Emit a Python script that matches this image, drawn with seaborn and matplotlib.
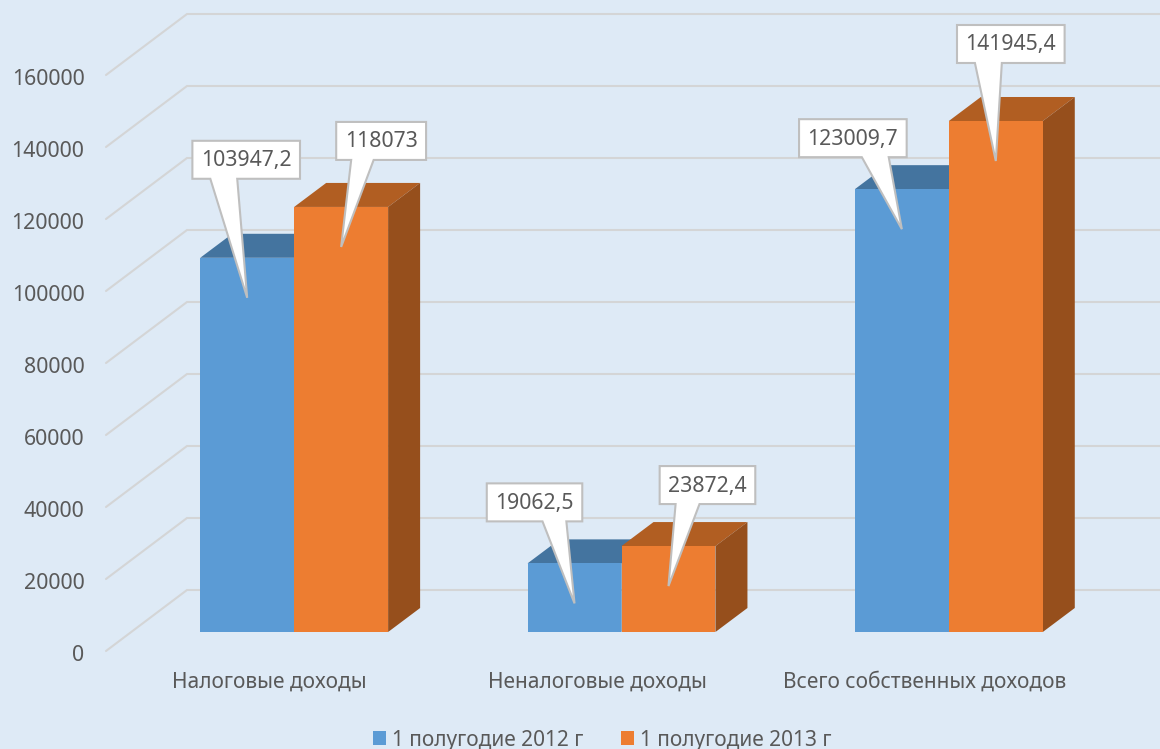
import pandas as pd
import seaborn as sns
import matplotlib.pyplot as plt
from matplotlib.patches import Polygon
from matplotlib.transforms import IdentityTransform, ScaledTranslation

#Data
categories = ["Налоговые доходы", "Неналоговые доходы", "Всего собственных доходов"]
series_names = ["1 полугодие 2012 г", "1 полугодие 2013 г"]
values_2012 = [103947.2, 19062.5, 123009.7]
values_2013 = [118073, 23872.4, 141945.4]
label_2012 = ["103947,2", "19062,5", "123009,7"]
label_2013 = ["118073", "23872,4", "141945,4"]
y_ticks = [0, 20000, 40000, 60000, 80000, 100000, 120000, 140000, 160000]

#Style
bg_color = "#DEEAF6"
grid_color = "#D4D5D6"
text_color = "#595959"
front_colors = ["#5B9BD5", "#ED7D31"]
top_colors = ["#44749F", "#B15E22"]
side_colors = ["#3E6A92", "#964F1C"]
wall_depth = (81, 61)   # px
bar_shift = (24.5, 19)  # px, bars stand inside the floor
bar_depth = (32, 24)    # px
# callout box centre relative to the tip, px
callout_offsets = [[(-1, 138), (-40, 101), (-49, 91)],
                   [(40, 106), (39, 101), (15, 117)]]

W, H = 1160, 749
sns.set_theme(style="white")
plt.rcParams["font.family"] = ["Noto Sans", "DejaVu Sans"]

fig = plt.figure(figsize=(W / 100, H / 100), dpi=100, facecolor=bg_color)
ax = fig.add_axes([106 / W, (H - 651) / H, 982 / W, 576 / H])
ax.patch.set_alpha(0)

df = pd.DataFrame({
    "category": categories * 2,
    "series": [series_names[0]] * 3 + [series_names[1]] * 3,
    "value": values_2012 + values_2013,
})
sns.barplot(data=df, x="category", y="value", hue="series", palette=front_colors,
            saturation=1, width=0.574, gap=0, linewidth=0, ax=ax, zorder=5)

ax.set_xlim(-0.5, 2.5)
ax.set_ylim(0, 160000)
ax.set_xlabel("")
ax.set_ylabel("")
ax.set_yticks(y_ticks)
ax.set_yticklabels([str(t) for t in y_ticks])
ax.tick_params(axis="y", length=0, pad=15.5, labelsize=15.4, labelcolor=text_color)
ax.tick_params(axis="x", length=0, pad=15, labelsize=15.05, labelcolor=text_color)
sns.despine(ax=ax, left=True, bottom=True)
for lab in ax.get_yticklabels():
    lab.set_transform(lab.get_transform() + ScaledTranslation(0, -2 / 100, fig.dpi_scale_trans))

#Wall grid: diagonal on the left, then flat along the back
for t in y_ticks:
    x0, y0 = ax.transData.transform((-0.5, t))
    x1, y1 = ax.transData.transform((2.5, t))
    ax.plot([x0, x0 + wall_depth[0], x1 + wall_depth[0]],
            [y0, y0 + wall_depth[1], y1 + wall_depth[1]],
            color=grid_color, lw=1.5, transform=IdentityTransform(),
            clip_on=False, zorder=1, solid_joinstyle="miter")

#Push the bars in and give them a top and a side
shift = ScaledTranslation(bar_shift[0] / 100, bar_shift[1] / 100, fig.dpi_scale_trans)
tips = []
for s, container in enumerate(ax.containers):
    tips.append([])
    for patch in container:
        patch.set_transform(ax.transData + shift)
        patch.set_clip_on(False)
        left, bottom = patch.get_x(), patch.get_y()
        right, top = left + patch.get_width(), bottom + patch.get_height()
        xl, yb = (ax.transData + shift).transform((left, bottom))
        xr, yt = (ax.transData + shift).transform((right, top))
        dx, dy = bar_depth
        ax.add_patch(Polygon([(xl, yt), (xr, yt), (xr + dx, yt + dy), (xl + dx, yt + dy)],
                             fc=top_colors[s], ec="none", transform=IdentityTransform(),
                             clip_on=False, zorder=3))
        ax.add_patch(Polygon([(xr, yb), (xr + dx, yb + dy), (xr + dx, yt + dy), (xr, yt)],
                             fc=side_colors[s], ec="none", transform=IdentityTransform(),
                             clip_on=False, zorder=3))
        tips[s].append(((xl + xr) / 2, yt - 40))

#Callouts
renderer = fig.canvas.get_renderer()
for s, labels in enumerate([label_2012, label_2013]):
    for i, label in enumerate(labels):
        tx, ty = tips[s][i]
        cx = tx + callout_offsets[s][i][0]
        cy = ty + callout_offsets[s][i][1]
        txt = ax.text(cx, cy - 1, label, transform=IdentityTransform(), ha="center", va="center",
                      fontsize=15.3, color=text_color, zorder=20, clip_on=False)
        half = txt.get_window_extent(renderer).width / 2 + 8.5
        x0, x1 = cx - half, cx + half
        y0, y1 = cy - 19, cy + 19
        w = x1 - x0
        if tx < cx + 5:
            b0, b1 = x0 + w * 2 / 12, x0 + w * 5 / 12
        else:
            b0, b1 = x0 + w * 7 / 12, x0 + w * 10 / 12
        ax.add_patch(Polygon([(x0, y1), (x1, y1), (x1, y0), (b1, y0), (tx, ty), (b0, y0), (x0, y0)],
                             fc="white", ec="#BFBFBF", lw=1.5, transform=IdentityTransform(),
                             clip_on=False, zorder=15, joinstyle="miter"))

#Legend
handles, names = ax.get_legend_handles_labels()
ax.legend(handles, names, ncols=2, frameon=False, loc="lower center",
          bbox_to_anchor=(602.5 / W, -12 / H), bbox_transform=fig.transFigure,
          fontsize=15.05, labelcolor=text_color, handlelength=0.62, handleheight=0.62,
          handletextpad=0.28, columnspacing=1.8, borderpad=0)

fig.savefig("out.png", dpi=100, facecolor=bg_color)
